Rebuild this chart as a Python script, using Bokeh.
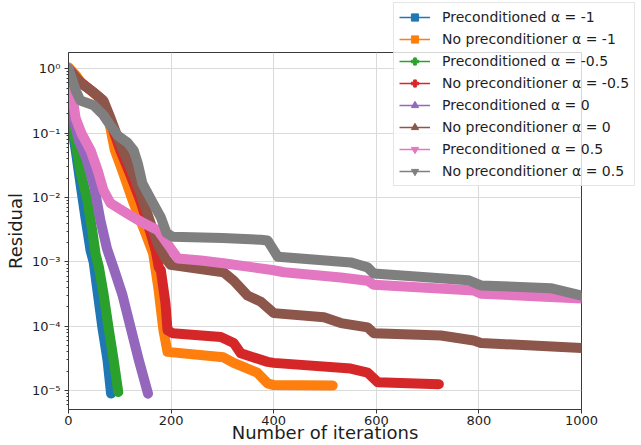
from bokeh.plotting import figure
from bokeh.models import (Range1d, FixedTicker, CustomJSTickFormatter, Legend,
                          LegendItem)
from bokeh.embed import file_html
from bokeh.resources import INLINE

# ---------------- data ----------------
labels = ["Preconditioned \u03b1 = -1", "No preconditioner \u03b1 = -1",
          "Preconditioned \u03b1 = -0.5", "No preconditioner \u03b1 = -0.5",
          "Preconditioned \u03b1 = 0", "No preconditioner \u03b1 = 0",
          "Preconditioned \u03b1 = 0.5", "No preconditioner \u03b1 = 0.5"]
colors = ["#1f77b4", "#ff7f0e", "#2ca02c", "#d62728",
          "#9467bd", "#8c564b", "#e377c2", "#7f7f7f"]
markers = ["square", "square", "plus", "plus",
           "triangle", "triangle", "inverted_triangle", "inverted_triangle"]

prec_m1_it = [0, 4, 8, 14, 23, 33, 43, 49, 57, 66, 76, 83]
prec_m1_res = [1.0, 0.3, 0.11, 0.054, 0.017, 4.9e-3, 1.5e-3, 1.0e-3, 3.3e-4,
               9.6e-5, 3.0e-5, 9.0e-6]

noprec_m1_it = [0, 15, 25, 45, 65, 80, 90, 105, 125, 150, 165, 175, 185, 193,
                302, 322, 368, 388, 400, 515]
noprec_m1_res = [1.05, 0.78, 0.6, 0.45, 0.33, 0.14, 0.055, 0.026, 9e-3, 2.8e-3,
                 1.35e-3, 4e-4, 8.7e-5, 4e-5, 3.3e-5, 2.7e-5, 1.9e-5, 1.3e-5,
                 1.22e-5, 1.2e-5]

prec_m05_it = [0, 5, 10, 14, 23, 37, 47, 53, 59, 68, 78, 88, 97]
prec_m05_res = [1.0, 0.3, 0.12, 0.07, 0.026, 9e-3, 2.8e-3, 1.3e-3, 8.5e-4,
                3.3e-4, 9.6e-5, 3.0e-5, 9.5e-6]

noprec_m05_it = [0, 20, 45, 65, 82, 101, 121, 140, 160, 170, 176, 180, 189, 193,
                 203, 297, 322, 336, 388, 400, 550, 583, 603, 722]
noprec_m05_res = [1.0, 0.65, 0.45, 0.33, 0.145, 0.054, 0.022, 8.9e-3, 2.8e-3,
                  1.5e-3, 8.2e-4, 7.4e-4, 2.3e-4, 8.7e-5, 7.8e-5, 6.8e-5, 5.5e-5,
                  3.8e-5, 2.8e-5, 2.7e-5, 2.2e-5, 1.9e-5, 1.35e-5, 1.26e-5]

prec_0_it = [0, 4, 8, 20, 35, 50, 62, 75, 88, 105, 121, 137, 155]
prec_0_res = [1.0, 0.35, 0.19, 0.077, 0.04, 0.015, 4.5e-3, 1.6e-3, 8e-4, 3.1e-4,
              9.6e-5, 3.0e-5, 9e-6]

noprec_0_it = [0, 23, 49, 68, 82, 100, 120, 140, 160, 175, 190, 199, 302, 322,
               349, 375, 400, 498, 531, 583, 595, 726, 790, 804, 1000]
noprec_0_res = [1.0, 0.6, 0.43, 0.32, 0.17, 0.07, 0.03, 0.012, 4e-3, 1.8e-3,
                1.1e-3, 9e-4, 6.9e-4, 5.1e-4, 3.0e-4, 2.4e-4, 1.6e-4, 1.38e-4,
                1.12e-4, 9.6e-5, 7.8e-5, 7.2e-5, 6.0e-5, 5.5e-5, 4.6e-5]

prec_05_it = [0, 2, 8, 14, 25, 43, 57, 68, 82, 115, 146, 174, 193, 213, 258,
              302, 400, 420, 531, 583, 595, 790, 804, 1000]
prec_05_res = [1.0, 0.6, 0.35, 0.17, 0.1, 0.054, 0.026, 0.013, 8.1e-3, 5.6e-3,
               4.0e-3, 3.1e-3, 1.9e-3, 1.13e-3, 1.05e-3, 9.5e-4, 7.4e-4, 6.9e-4,
               5.7e-4, 5.1e-4, 4.4e-4, 3.6e-4, 3.2e-4, 2.7e-4]

noprec_05_it = [0, 14, 23, 49, 68, 82, 96, 115, 127, 135, 144, 162, 180, 191,
                203, 300, 375, 388, 408, 550, 583, 595, 779, 804, 940, 1000]
noprec_05_res = [1.0, 0.46, 0.32, 0.27, 0.19, 0.13, 0.091, 0.071, 0.054, 0.034,
                 0.0165, 8.9e-3, 4.9e-3, 2.8e-3, 2.45e-3, 2.35e-3, 2.2e-3,
                 2.15e-3, 1.2e-3, 9.8e-4, 8.2e-4, 6.6e-4, 5.2e-4, 4.3e-4,
                 3.9e-4, 3.0e-4]

series_it = [prec_m1_it, noprec_m1_it, prec_m05_it, noprec_m05_it,
             prec_0_it, noprec_0_it, prec_05_it, noprec_05_it]
series_res = [prec_m1_res, noprec_m1_res, prec_m05_res, noprec_m05_res,
              prec_0_res, noprec_0_res, prec_05_res, noprec_05_res]

x_ticks = [0, 200, 400, 600, 800, 1000]
y_ticks = [1e-5, 1e-4, 1e-3, 1e-2, 1e-1, 1.0]
y_tick_labels = ["10\u207b\u2075", "10\u207b\u2074", "10\u207b\u00b3",
                 "10\u207b\u00b2", "10\u207b\u00b9", "10\u2070"]
y_minor = [m * 10.0 ** e for e in range(-6, 1) for m in range(2, 10)]

FONT = "DejaVu Sans"
TXT = "#1e1e1e"

# ---------------- main plot ----------------
p = figure(width=641, height=445, output_backend="svg", toolbar_location=None,
           y_axis_type="log", x_range=Range1d(0, 1000),
           y_range=Range1d(5.1e-6, 1.78),
           min_border_left=68, min_border_right=60, min_border_top=52,
           min_border_bottom=36)
p.background_fill_color = "white"
p.border_fill_color = "white"
p.outline_line_color = "#3a3a3a"
p.outline_line_width = 1

for ax in (p.xaxis[0], p.yaxis[0]):
    ax.axis_line_color = "#3a3a3a"
    ax.major_tick_line_color = "#3a3a3a"
    ax.minor_tick_line_color = "#3a3a3a"
    ax.major_tick_out = 4
    ax.major_tick_in = 0
    ax.minor_tick_out = 2
    ax.minor_tick_in = 0
    ax.major_label_text_font = FONT
    ax.major_label_text_font_size = "13px"
    ax.major_label_text_color = TXT
    ax.axis_label_text_font = FONT
    ax.axis_label_text_font_size = "18px"
    ax.axis_label_text_font_style = "normal"
    ax.axis_label_text_color = TXT

p.xaxis.ticker = FixedTicker(ticks=x_ticks)
p.xaxis.minor_tick_line_color = None
p.xaxis.axis_label = "Number of iterations"
p.xaxis.major_label_standoff = 2
p.xaxis.axis_label_standoff = -6

p.yaxis.ticker = FixedTicker(ticks=y_ticks, minor_ticks=y_minor)
p.yaxis.formatter = CustomJSTickFormatter(
    args=dict(tvals=y_ticks, tlabs=y_tick_labels),
    code="""
    for (let i = 0; i < tvals.length; i++) {
        if (Math.abs(Math.log10(tick) - Math.log10(tvals[i])) < 1e-6) return tlabs[i];
    }
    return '';
    """)
p.yaxis.axis_label = "Residual"
p.yaxis.major_label_standoff = 4
p.yaxis.axis_label_standoff = 3

p.xgrid.grid_line_color = "#dadada"
p.ygrid.grid_line_color = "#dadada"

for it, res, c in zip(series_it, series_res, colors):
    p.line(x=it, y=res, line_width=10, line_color=c, line_join="round",
           line_cap="round")

# ---------------- legend (overlaid, spills over the frame like the original) ----
lg = figure(width=247, height=186, output_backend="svg", toolbar_location=None,
            x_range=Range1d(2000, 3000), y_range=Range1d(2, 3),
            x_axis_location=None, y_axis_location=None, min_border=0,
            styles={"position": "absolute", "left": "393px", "top": "2px"})
lg.outline_line_color = None
lg.background_fill_alpha = 0
lg.border_fill_alpha = 0
lg.xgrid.grid_line_color = None
lg.ygrid.grid_line_color = None

items = []
for it, res, c, m, lab in zip(series_it, series_res, colors, markers, labels):
    lr = lg.line(x=it, y=res, line_width=1.5, line_color=c)
    sr = lg.scatter(x=it, y=res, marker=m, size=8, fill_color=c, line_color=c)
    items.append(LegendItem(label=lab, renderers=[lr, sr]))

legend = Legend(items=items, location="top_left")
legend.label_text_font = FONT
legend.label_text_font_size = "14px"
legend.label_text_color = TXT
legend.glyph_width = 31
legend.glyph_height = 18
legend.label_height = 18
legend.label_standoff = 12
legend.spacing = 4
legend.padding = 5
legend.margin = 0
legend.border_line_color = "#cccccc"
legend.border_line_width = 1
legend.background_fill_color = "white"
legend.background_fill_alpha = 0.8
lg.add_layout(legend)

open("out.html", "w").write(file_html([p, lg], INLINE))
